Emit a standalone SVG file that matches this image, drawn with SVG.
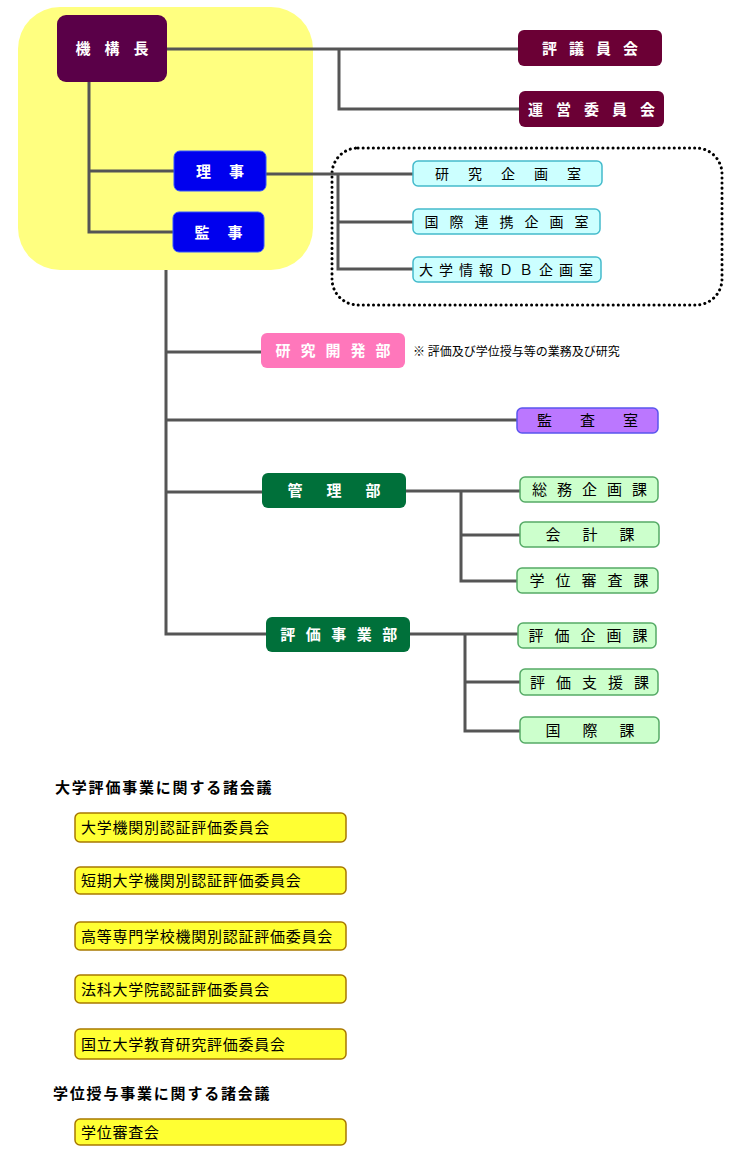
<svg xmlns="http://www.w3.org/2000/svg" width="735" height="1152" viewBox="0 0 735 1152">
<style>
.t{font-family:"Noto Sans CJK JP","Noto Sans CJK SC",sans-serif;font-size:15px;text-anchor:middle}
.w{fill:#fff;font-weight:bold}
.b{fill:#000}
.ln{fill:none;stroke:#555;stroke-width:3}
.cy{fill:#ccffff;stroke:#44bbcc;stroke-width:1.5}
.gr{fill:#ccffcc;stroke:#55aa66;stroke-width:1.5}
.yl{fill:#ffff33;stroke:#a87800;stroke-width:1.5}
.h{font-family:"Noto Sans CJK JP","Noto Sans CJK SC",sans-serif;font-size:15px;font-weight:bold;fill:#000;letter-spacing:1.8px}
.c{font-family:"Noto Sans CJK JP","Noto Sans CJK SC",sans-serif;font-size:15px;fill:#000;letter-spacing:0.75px}
</style>
<rect x="18" y="7" width="295" height="263" rx="42" fill="#ffff80"/>
<rect x="332" y="148" width="390" height="157" rx="26" fill="none" stroke="#000" stroke-width="3" stroke-dasharray="0.1 5" stroke-linecap="round"/>
<g id="connectors">
<path class="ln" d="M167 49H518M339 49V109H519"/>
<path class="ln" d="M89 82V232H173M89 171H174"/>
<path class="ln" d="M266 174H413M338 174V269H413M338 222H413"/>
<path class="ln" d="M166 270V634H266M166 352H261M166 420H517M166 492H262"/>
<path class="ln" d="M406 491H520M461 491V581H517M461 535H520"/>
<path class="ln" d="M410 634H518M465 634V731H520M465 682H520"/>
</g>
<g id="kikoucho"><rect x="57" y="15" width="110" height="67" rx="9" fill="#5a0048"/><text class="t w" x="119" y="54" style="letter-spacing:14px">機構長</text></g>
<g id="hyogiinkai"><rect x="518" y="30" width="144" height="36" rx="6" fill="#6b0035"/><text class="t w" x="596" y="53.5" style="letter-spacing:12px">評議員会</text></g>
<g id="uneiiinkai"><rect x="519" y="91" width="145" height="36" rx="6" fill="#6b0035"/><text class="t w" x="598" y="114.5" style="letter-spacing:13px">運営委員会</text></g>
<g id="riji"><rect x="174" y="151" width="92" height="40" rx="6" fill="#0000ee" stroke="#3355ff" stroke-width="1"/><text class="t w" x="229" y="176.5" style="letter-spacing:18px">理事</text></g>
<g id="kanji"><rect x="173" y="212" width="91" height="40" rx="6" fill="#0000ee" stroke="#3355ff" stroke-width="1"/><text class="t w" x="227.5" y="237.5" style="letter-spacing:18px">監事</text></g>
<g id="kenkyukikakushitsu"><rect class="cy" x="413" y="161" width="189" height="25" rx="5"/><text class="t b" x="517.5" y="178.5" style="font-size:14px;letter-spacing:19px">研究企画室</text></g>
<g id="kokusairenkei"><rect class="cy" x="413" y="209" width="187" height="25" rx="5"/><text class="t b" x="512" y="226.5" style="font-size:14px;letter-spacing:11px">国際連携企画室</text></g>
<g id="daigakujohodb"><rect class="cy" x="413" y="257" width="188" height="25" rx="5"/><text class="t b" x="509" y="274.5" style="font-size:14px;letter-spacing:6px">大学情報ＤＢ企画室</text></g>
<g id="kenkyukaihatsubu"><rect x="261" y="333" width="144" height="35" rx="6" fill="#ff77bb"/><text class="t w" x="338" y="356" style="letter-spacing:10px">研究開発部</text></g>
<text x="413" y="356" style="font-family:'Noto Sans CJK JP','Noto Sans CJK SC',sans-serif;font-size:12px;fill:#000">※ 評価及び学位授与等の業務及び研究</text>
<g id="kansashitsu"><rect x="517" y="408" width="141" height="25" rx="5" fill="#bb77ff" stroke="#5a55ee" stroke-width="1.5"/><text class="t b" x="601.5" y="426" style="letter-spacing:28px">監査室</text></g>
<g id="kanribu"><rect x="262" y="473" width="144" height="35" rx="6" fill="#00703a"/><text class="t w" x="346" y="496" style="letter-spacing:24px">管理部</text></g>
<g id="somukikakuka"><rect class="gr" x="520" y="477" width="138" height="25" rx="5"/><text class="t b" x="594.5" y="495" style="letter-spacing:10px">総務企画課</text></g>
<g id="kaikeika"><rect class="gr" x="520" y="522" width="139" height="25" rx="5"/><text class="t b" x="601" y="540" style="letter-spacing:22px">会計課</text></g>
<g id="gakuishinsaka"><rect class="gr" x="517" y="568" width="141" height="25" rx="5"/><text class="t b" x="594.5" y="586" style="letter-spacing:11px">学位審査課</text></g>
<g id="hyokajigyobu"><rect x="266" y="617" width="144" height="35" rx="6" fill="#00703a"/><text class="t w" x="344" y="640" style="letter-spacing:10.5px">評価事業部</text></g>
<g id="hyokakikakuka"><rect class="gr" x="518" y="623" width="138" height="25" rx="5"/><text class="t b" x="593.5" y="641" style="letter-spacing:11px">評価企画課</text></g>
<g id="hyokashienka"><rect class="gr" x="520" y="669" width="138" height="26" rx="5"/><text class="t b" x="595" y="687.5" style="letter-spacing:11px">評価支援課</text></g>
<g id="kokusaika"><rect class="gr" x="520" y="717" width="139" height="26" rx="5"/><text class="t b" x="601" y="735.5" style="letter-spacing:22px">国際課</text></g>
<text class="h" x="55" y="793">大学評価事業に関する諸会議</text>
<g id="c1"><rect class="yl" x="75" y="813" width="271" height="29" rx="5"/><text class="c" x="81" y="833">大学機関別認証評価委員会</text></g>
<g id="c2"><rect class="yl" x="75" y="867" width="271" height="27" rx="5"/><text class="c" x="81" y="886">短期大学機関別認証評価委員会</text></g>
<g id="c3"><rect class="yl" x="75" y="922" width="271" height="28" rx="5"/><text class="c" x="81" y="941.5">高等専門学校機関別認証評価委員会</text></g>
<g id="c4"><rect class="yl" x="75" y="975" width="271" height="28" rx="5"/><text class="c" x="81" y="994.5">法科大学院認証評価委員会</text></g>
<g id="c5"><rect class="yl" x="75" y="1029" width="271" height="30" rx="5"/><text class="c" x="81" y="1049.5">国立大学教育研究評価委員会</text></g>
<text class="h" x="53" y="1099">学位授与事業に関する諸会議</text>
<g id="c6"><rect class="yl" x="75" y="1119" width="271" height="26" rx="5"/><text class="c" x="81" y="1137.5">学位審査会</text></g>
</svg>
